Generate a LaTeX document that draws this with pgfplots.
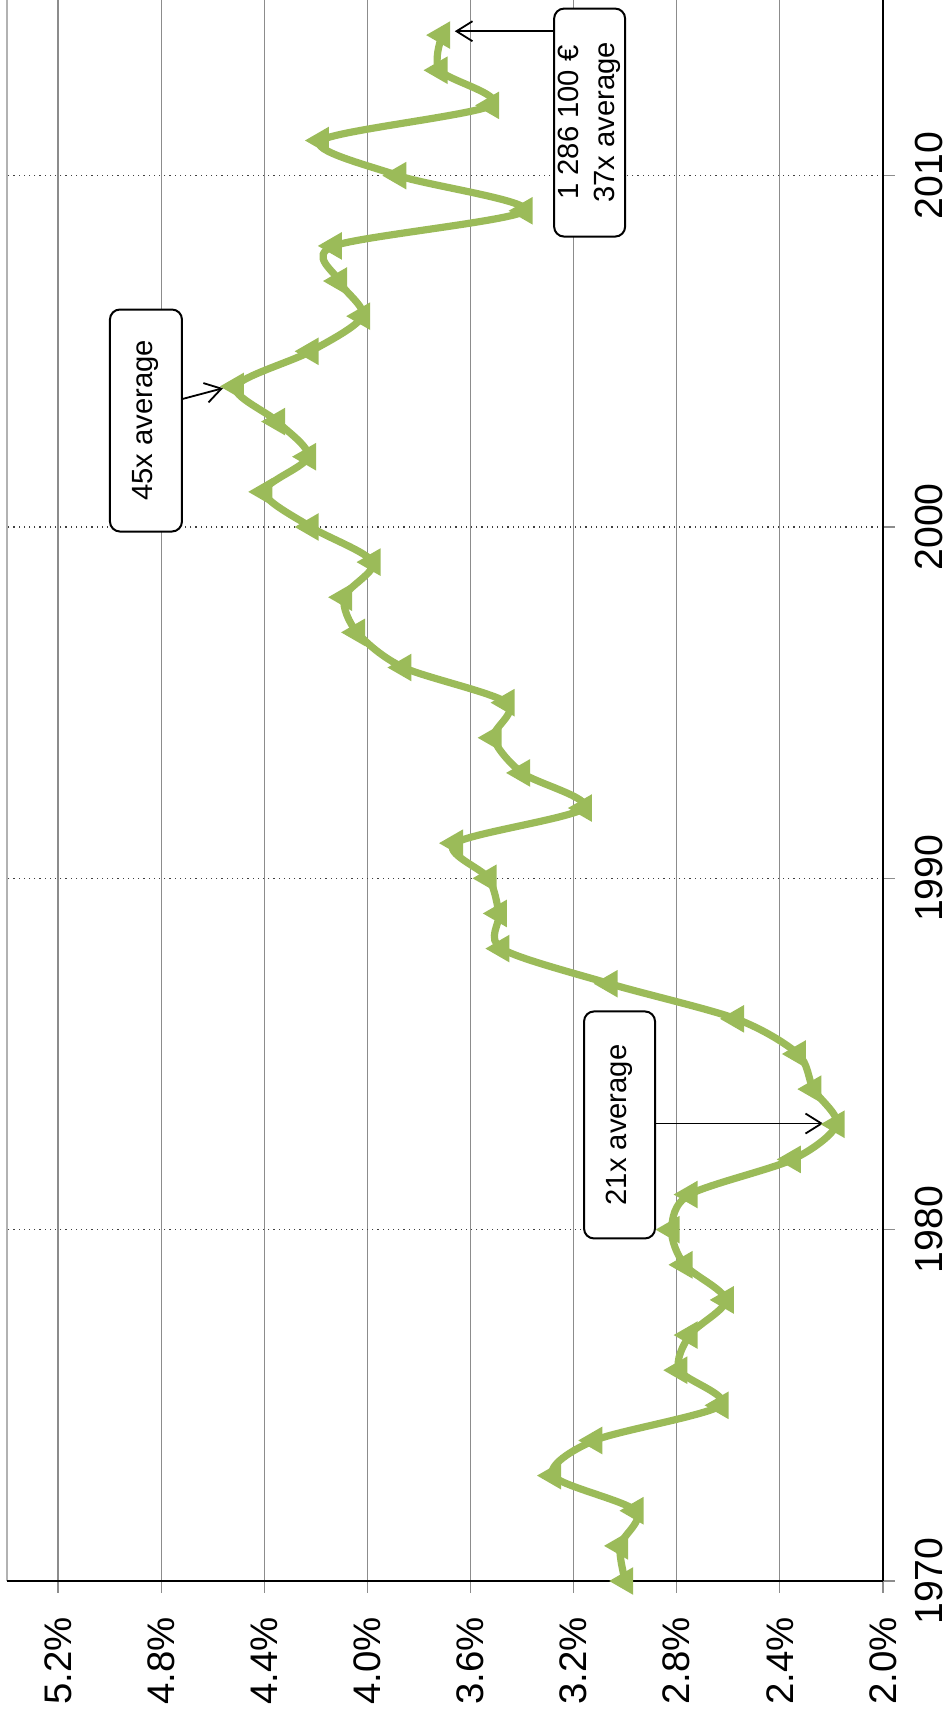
\documentclass[border=0pt]{standalone}
\usepackage{pgfplots}
\pgfplotsset{compat=1.18}
\usepackage{pgfplotstable}
\usepackage{fontspec}
\setmainfont{Liberation Sans}
\usetikzlibrary{arrows.meta}
\definecolor{olivegreen}{HTML}{9BBB59}
\definecolor{gridgray}{HTML}{8C8C8C}

% year, percentage
\pgfplotstableread{
yr p
1970 3.00
1971 3.02
1972 2.96
1973 3.28
1974 3.12
1975 2.63
1976 2.79
1977 2.75
1978 2.61
1979 2.77
1980 2.82
1981 2.75
1982 2.35
1983 2.18
1984 2.27
1985 2.33
1986 2.57
1987 3.06
1988 3.48
1989 3.49
1990 3.53
1991 3.66
1992 3.16
1993 3.40
1994 3.51
1995 3.46
1996 3.86
1997 4.04
1998 4.09
1999 3.98
2000 4.22
2001 4.40
2002 4.23
2003 4.35
2004 4.51
2005 4.22
2006 4.02
2007 4.11
2008 4.13
2009 3.39
2010 3.88
2011 4.18
2012 3.52
2013 3.72
2014 3.71
}\share

\begin{document}
\begin{tikzpicture}
\begin{axis}[
  scale only axis, width=219pt, height=395.25pt,
  x dir=reverse,
  xmin=2.0, xmax=5.398, ymin=1970, ymax=2015,
  axis line style={draw=none},
  clip=false,
  xtick={2.0,2.4,2.8,3.2,3.6,4.0,4.4,4.8,5.2},
  xticklabels={2.0\%,2.4\%,2.8\%,3.2\%,3.6\%,4.0\%,4.4\%,4.8\%,5.2\%},
  ytick={1970,1980,1990,2000,2010},
  yticklabels={1970,1980,1990,2000,2010},
  xtick pos=bottom, ytick pos=right, yticklabel pos=right,
  tick align=outside, major tick length=2.9pt,
  tick style={gridgray, line width=0.3pt},
  xmajorgrids, ymajorgrids,
  x grid style={gridgray, line width=0.3pt},
  y grid style={black!75, line width=0.3pt, densely dotted},
  xticklabel style={rotate=90, anchor=east, inner sep=0pt, font=\fontsize{9.6}{11}\selectfont},
  yticklabel style={rotate=90, anchor=north, inner sep=0pt, font=\fontsize{9.8}{11}\selectfont},
  xticklabel shift=6pt, yticklabel shift=5pt,
]
\draw[black!30, line width=0.5pt] (axis cs:5.398,1970) -- (axis cs:5.398,2015);
\draw[black, line width=0.4pt] (axis cs:5.398,1970) -- (axis cs:2.0,1970);
\draw[black, line width=0.4pt] (axis cs:2.0,1970) -- (axis cs:2.0,2015);

\addplot[olivegreen, line width=1.8pt, smooth, tension=0.5, mark=triangle*,
  mark size=2.2pt, mark options={rotate=90, solid}] table[x=p, y=yr] {\share};

\node[draw, fill=white, rounded corners=2.5pt, line width=0.5pt, rotate=90,
  minimum width=56.75pt, minimum height=17.75pt, inner sep=0pt, align=center,
  font=\fontsize{7.3}{8.9}\selectfont] at (axis cs:3.022,1982.98) {21x average};
\draw[-{Straight Barb[length=4pt,width=5pt]}, line width=0.45pt]
  (axis cs:2.884,1983.02) -- (axis cs:2.232,1983.02);

\node[draw, fill=white, rounded corners=2.5pt, line width=0.5pt, rotate=90,
  minimum width=55.5pt, minimum height=18pt, inner sep=0pt, align=center,
  font=\fontsize{7.3}{8.9}\selectfont] at (axis cs:4.859,2003.03) {45x average};
\draw[-{Straight Barb[length=4pt,width=5pt]}, line width=0.45pt]
  (axis cs:4.719,2003.64) -- (axis cs:4.560,2003.95);

\node[draw, fill=white, rounded corners=2.5pt, line width=0.5pt, rotate=90,
  minimum width=57pt, minimum height=17.75pt, inner sep=0pt, align=center,
  font=\fontsize{7.3}{8.9}\selectfont] at (axis cs:3.138,2011.51) {1 286 100 €\\37x average};
\draw[-{Straight Barb[length=4pt,width=5pt]}, line width=0.45pt]
  (axis cs:3.276,2014.11) -- (axis cs:3.661,2014.11);
\end{axis}
\pgfresetboundingbox
\useasboundingbox ([shift={(-1.75pt,-34.25pt)}]current axis.south west)
  rectangle ([shift={(16.25pt,0pt)}]current axis.north east);
\end{tikzpicture}
\end{document}
